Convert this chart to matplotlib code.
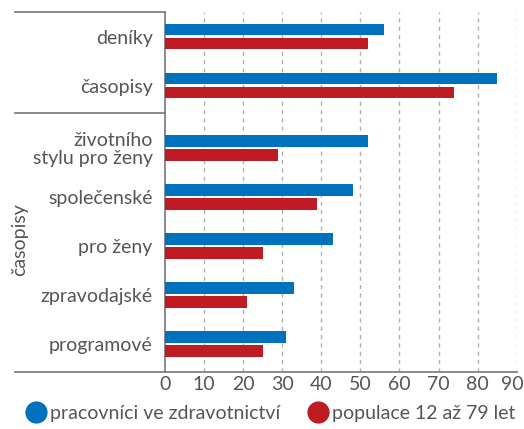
import matplotlib.pyplot as plt
from matplotlib.lines import Line2D
from matplotlib.transforms import ScaledTranslation

plt.rcParams['font.family'] = ['Lato', 'DejaVu Sans']

categories = ['deníky', 'časopisy', 'životního\nstylu pro ženy', 'společenské',
              'pro ženy', 'zpravodajské', 'programové']
health_workers = [56, 85, 52, 48, 43, 33, 31]
population = [52, 74, 29, 39, 25, 21, 25]
series_names = ['pracovníci ve zdravotnictví', 'populace 12 až 79 let']
group_label = 'časopisy'

blue = '#0071BC'
red = '#BE1B22'
text_col = '#555555'
line_col = '#777777'
fs = 14

# extra space between the two blocks of rows
pos = [0, 1, 2.27, 3.27, 4.27, 5.27, 6.27]
off = 0.143
h = 0.235

fig = plt.figure(figsize=(5.24, 4.29), dpi=100)
ax = fig.add_axes([0.315, 0.133, 0.671, 0.839])

ax.barh([p - off for p in pos], health_workers, height=h, color=blue, zorder=3)
ax.barh([p + off for p in pos], population, height=h, color=red, zorder=3)

ax.set_ylim(6.84, -0.5)
ax.set_xlim(0, 90)
ax.set_xticks(range(0, 100, 10))
ax.set_yticks(pos)
ax.set_yticklabels(categories, fontsize=fs, color=text_col, linespacing=1.05)
ax.tick_params(axis='y', length=0, pad=9)
ax.tick_params(axis='x', length=0, pad=3, labelsize=fs, labelcolor=text_col)

# nudge the last x label a little left so it stays inside the figure
last = ax.xaxis.get_major_ticks()[-1].label1
last.set_transform(last.get_transform() + ScaledTranslation(-4 / 100, 0, fig.dpi_scale_trans))

for v in range(10, 100, 10):
    ax.axvline(v, color='#b0b0b0', lw=1, ls=(0, (3, 3)), zorder=1)

for s in ['top', 'right', 'bottom']:
    ax.spines[s].set_visible(False)
ax.spines['left'].set_color(line_col)
ax.spines['left'].set_linewidth(1.2)

# horizontal rules that run into the label column
x0 = 15 / 524
trans = ax.get_yaxis_transform()
left_ax = (x0 - 0.315) / 0.671
for y, x1 in [(-0.5, 0), (1.56, 0), (6.84, 1)]:
    ax.add_line(Line2D([left_ax, x1], [y, y], transform=trans, color=line_col,
                       lw=1.2, clip_on=False))

fig.text(20 / 524, 1 - 240 / 429, group_label, rotation=90, ha='center', va='center',
         fontsize=fs, color=text_col)

handles = [Line2D([], [], ls='', marker='o', markersize=15, color=blue),
           Line2D([], [], ls='', marker='o', markersize=15, color=red)]
fig.legend(handles, series_names, loc='center', bbox_to_anchor=(0.515, 1 - 413 / 429),
           ncol=2, frameon=False, fontsize=fs, labelcolor=text_col,
           handletextpad=0.15, columnspacing=1.3, handlelength=1.2)

fig.savefig('out.png', dpi=100)
